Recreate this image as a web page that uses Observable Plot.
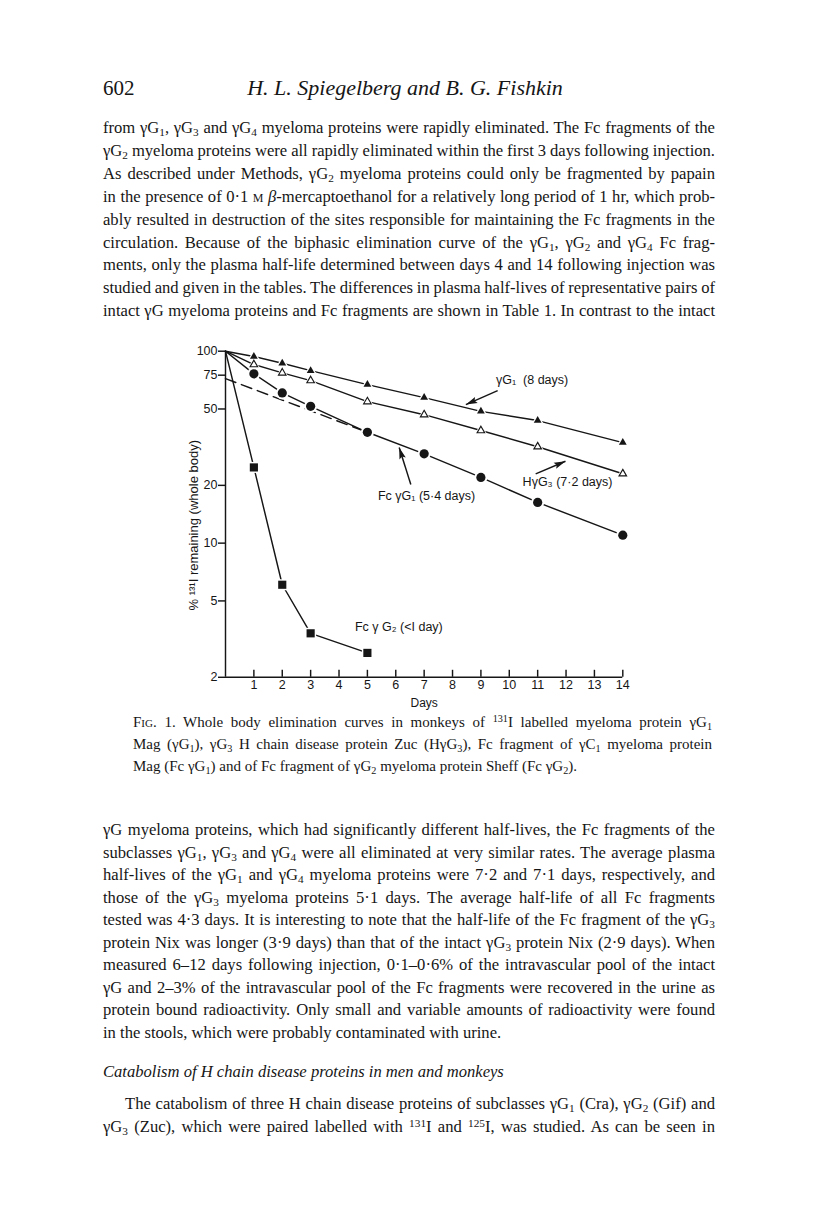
<!DOCTYPE html>
<html><head><meta charset="utf-8">
<script src="https://cdn.jsdelivr.net/npm/d3@7"></script>
<script src="https://cdn.jsdelivr.net/npm/@observablehq/plot@0.6"></script>
<style>
html,body{margin:0;padding:0;background:#fff;}
body{width:816px;height:1212px;position:relative;overflow:hidden;font-family:"Liberation Serif","Times New Roman",serif;color:#161616;}
.ln{position:absolute;white-space:nowrap;line-height:20px;height:20px;}
.ln span.t{display:inline-block;white-space:nowrap;}
.body{font-size:16.6px;}
.cap{font-size:15px;}
sub{font-size:0.68em;vertical-align:-0.28em;line-height:0;}
sup{font-size:0.68em;vertical-align:0.45em;line-height:0;}
.sc{font-variant:small-caps;}
#chart{position:absolute;left:100px;top:330px;}
</style>
</head><body>
<div id="page"></div>
<div id="chart"></div>
<script>
// ---------------- chart data ----------------
const days = [0, 1, 2, 3, 5, 7, 9, 11, 14];
const gG1 = [100, 93.8, 86.5, 79.2, 67.0, 57.3, 48.6, 43.5, 33.4];     // γG1 Mag (filled triangles)
const HgG3 = [100, 85.2, 77.1, 70.3, 54.6, 46.7, 38.6, 31.8, 23.0];    // HγG3 Zuc (open triangles)
const FcgG1 = [100, 76.2, 60.6, 51.6, 37.8, 29.2, 22.0, 16.3, 11.0];   // Fc γG1 (filled circles)
const daysG2 = [0, 1, 2, 3, 5];
const FcgG2 = [100, 24.8, 6.07, 3.39, 2.68];                           // Fc γG2 (filled squares)
const extrapDays = [0, 5];
const extrapFcgG1 = [72, 37.8];                                        // dashed back-extrapolation
const yTicks = [2, 5, 10, 20, 50, 75, 100];
const xTicks = [1, 2, 3, 4, 5, 6, 7, 8, 9, 10, 11, 12, 13, 14];
const yLabel = "% \u00B9\u00B3\u00B9I remaining (whole body)";
const xLabel = "Days";
const labelText = ["\u03B3G\u2081  (8 days)", "H\u03B3G\u2083 (7\u00B72 days)", "Fc \u03B3G\u2081 (5\u00B74 days)", "Fc \u03B3 G\u2082 (<I day)"];
const labelDay = [9.53, 10.47, 5.37, 4.56];
const labelPct = [71.1, 20.7, 17.7, 3.65];
const arrowDay1 = [9.59, 10.93, 6.53];
const arrowPct1 = [62.3, 22.96, 20.2];
const arrowDay2 = [8.47, 11.98, 6.12];
const arrowPct2 = [52.7, 26.7, 31.5];

// ---------------- page text ----------------
const header = {num: "602", authors: "H. L. Spiegelberg and B. G. Fishkin"};
const topLines = [
 "from \u03B3G<sub>1</sub>, \u03B3G<sub>3</sub> and \u03B3G<sub>4</sub> myeloma proteins were rapidly eliminated. The Fc fragments of the",
 "\u03B3G<sub>2</sub> myeloma proteins were all rapidly eliminated within the first 3 days following injection.",
 "As described under Methods, \u03B3G<sub>2</sub> myeloma proteins could only be fragmented by papain",
 "in the presence of 0\u00B71 <span class='sc'>m</span> <i>\u03B2</i>-mercaptoethanol for a relatively long period of 1 hr, which prob-",
 "ably resulted in destruction of the sites responsible for maintaining the Fc fragments in the",
 "circulation. Because of the biphasic elimination curve of the \u03B3G<sub>1</sub>, \u03B3G<sub>2</sub> and \u03B3G<sub>4</sub> Fc frag-",
 "ments, only the plasma half-life determined between days 4 and 14 following injection was",
 "studied and given in the tables. The differences in plasma half-lives of representative pairs of",
 "intact \u03B3G myeloma proteins and Fc fragments are shown in Table 1. In contrast to the intact"
];
const captionLines = [
 "F<span class='sc'>ig</span>. 1. Whole body elimination curves in monkeys of <sup>131</sup>I labelled myeloma protein \u03B3G<sub>1</sub>",
 "Mag (\u03B3G<sub>1</sub>), \u03B3G<sub>3</sub> H chain disease protein Zuc (H\u03B3G<sub>3</sub>), Fc fragment of \u03B3C<sub>1</sub> myeloma protein",
 "Mag (Fc \u03B3G<sub>1</sub>) and of Fc fragment of \u03B3G<sub>2</sub> myeloma protein Sheff (Fc \u03B3G<sub>2</sub>)."
];
const lowerLines = [
 "\u03B3G myeloma proteins, which had significantly different half-lives, the Fc fragments of the",
 "subclasses \u03B3G<sub>1</sub>, \u03B3G<sub>3</sub> and \u03B3G<sub>4</sub> were all eliminated at very similar rates. The average plasma",
 "half-lives of the \u03B3G<sub>1</sub> and \u03B3G<sub>4</sub> myeloma proteins were 7\u00B72 and 7\u00B71 days, respectively, and",
 "those of the \u03B3G<sub>3</sub> myeloma proteins 5\u00B71 days. The average half-life of all Fc fragments",
 "tested was 4\u00B73 days. It is interesting to note that the half-life of the Fc fragment of the \u03B3G<sub>3</sub>",
 "protein Nix was longer (3\u00B79 days) than that of the intact \u03B3G<sub>3</sub> protein Nix (2\u00B79 days). When",
 "measured 6\u201312 days following injection, 0\u00B71\u20130\u00B76% of the intravascular pool of the intact",
 "\u03B3G and 2\u20133% of the intravascular pool of the Fc fragments were recovered in the urine as",
 "protein bound radioactivity. Only small and variable amounts of radioactivity were found",
 "in the stools, which were probably contaminated with urine."
];
const heading = "Catabolism of H chain disease proteins in men and monkeys";
const lastLines = [
 "The catabolism of three H chain disease proteins of subclasses \u03B3G<sub>1</sub> (Cra), \u03B3G<sub>2</sub> (Gif) and",
 "\u03B3G<sub>3</sub> (Zuc), which were paired labelled with <sup>131</sup>I and <sup>125</sup>I, was studied. As can be seen in"
];

const page = document.getElementById("page");
function addLine(html, cls, left, cy, width, justify, extraStyle) {
  const d = document.createElement("div");
  d.className = "ln " + cls;
  d.style.left = left + "px";
  d.style.top = (cy - 10) + "px";
  if (extraStyle) d.style.cssText += extraStyle;
  const s = document.createElement("span");
  s.className = "t";
  s.innerHTML = html;
  d.appendChild(s);
  page.appendChild(d);
  if (justify) {
    const w = s.getBoundingClientRect().width;
    const n = (s.textContent.match(/ /g) || []).length;
    if (n) s.style.wordSpacing = ((width - w) / n) + "px";
  }
  return d;
}
// header
addLine(header.num, "body", 103, 88, 0, false, "font-size:21px;");
const h = addLine("<i>" + header.authors + "</i>", "body", 0, 88, 0, false, "font-size:22px;");
h.style.left = (405 - h.firstChild.getBoundingClientRect().width / 2) + "px";

topLines.forEach((t, i) => addLine(t, "body", 103, 128 + 22.9 * i, 612, true));
captionLines.forEach((t, i) => addLine(t, "cap", 133, 722 + 21.8 * i, 579, i < 2));
lowerLines.forEach((t, i) => addLine(t, "body", 103, 830 + 22.5 * i, 612, i < lowerLines.length - 1));
addLine("<i>" + heading + "</i>", "body", 103, 1072, 0, false);
lastLines.forEach((t, i) => addLine(t, "body", i === 0 ? 125 : 103, 1104 + 22.5 * i, i === 0 ? 590 : 612, true));

// ---------------- chart ----------------
function rows(xs, ys) { return xs.map((d, i) => ({day: d, pct: ys[i]})); }
const dG1 = rows(days, gG1), dG3 = rows(days, HgG3), dFc1 = rows(days, FcgG1), dFc2 = rows(daysG2, FcgG2);
const dExt = rows(extrapDays, extrapFcgG1);
const pts = a => a.filter(d => d.day > 0);
const labels = labelText.map((t, i) => ({text: t, day: labelDay[i], pct: labelPct[i]}));

const ink = "#161616";
const lw = 1.45;
const frame = {
  width: 560, height: 390,
  marginLeft: 125, marginRight: 37.7, marginTop: 20.7, marginBottom: 43.2,
  x: {domain: [0, 14]},
  y: {type: "log", domain: [2, 100]}
};
// scales (to orient the filled arrowheads)
const probe = Plot.plot({...frame, marks: [Plot.ruleX([0])]});
const sx = probe.scale("x"), sy = probe.scale("y");
const arrows = arrowDay1.map((d, i) => {
  const dx = sx.apply(arrowDay2[i]) - sx.apply(d);
  const dy = sy.apply(arrowPct2[i]) - sy.apply(arrowPct1[i]);
  return {x1: d, y1: arrowPct1[i], x2: arrowDay2[i], y2: arrowPct2[i], angle: Math.atan2(dx, -dy) * 180 / Math.PI};
});
const arrowHead = {draw(ctx) { ctx.moveTo(0, 0); ctx.lineTo(-3.3, 11.5); ctx.lineTo(0, 9.5); ctx.lineTo(3.3, 11.5); ctx.closePath(); }};

const chart = Plot.plot({
  ...frame,
  style: {fontFamily: "'Liberation Sans', 'DejaVu Sans', sans-serif", fontSize: "12.5px", color: ink, background: "transparent"},
  marks: [
    Plot.ruleX([0], {stroke: ink, strokeWidth: lw}),
    Plot.ruleY([2], {stroke: ink, strokeWidth: lw}),
    Plot.axisY({ticks: yTicks, tickSize: 7, tickFormat: () => "", label: null, stroke: ink, strokeWidth: lw}),
    Plot.text(yTicks, {y: d => d, frameAnchor: "left", dx: -8, textAnchor: "end", text: d => String(d), fontSize: 12.5, fill: ink}),
    Plot.axisX({ticks: xTicks, tickSize: 0, tickPadding: 3, tickFormat: d => String(d), label: null}),
    Plot.axisX({ticks: xTicks, tickSize: -7, tickFormat: () => "", label: null, stroke: ink, strokeWidth: lw}),
    Plot.text([yLabel], {frameAnchor: "left", textAnchor: "middle", rotate: -90, dx: -32, dy: 11, fontSize: 13}),
    Plot.text([xLabel], {frameAnchor: "bottom", dy: 30, fontSize: 12}),
    Plot.line(dExt, {x: "day", y: "pct", stroke: ink, strokeWidth: lw, strokeDasharray: "11,6"}),
    Plot.line(dG1, {x: "day", y: "pct", stroke: ink, strokeWidth: lw}),
    Plot.line(dG3, {x: "day", y: "pct", stroke: ink, strokeWidth: lw}),
    Plot.line(dFc1, {x: "day", y: "pct", stroke: ink, strokeWidth: lw}),
    Plot.line(dFc2, {x: "day", y: "pct", stroke: ink, strokeWidth: lw}),
    // white halos around markers (gaps in lines)
    Plot.dot(pts(dG1), {x: "day", y: "pct", symbol: "triangle", r: 4.5, fill: "white"}),
    Plot.dot(pts(dG3), {x: "day", y: "pct", symbol: "triangle", r: 4.5, fill: "white"}),
    Plot.dot(pts(dFc1), {x: "day", y: "pct", symbol: "circle", r: 6.5, fill: "white"}),
    Plot.dot(pts(dFc2), {x: "day", y: "pct", symbol: "square", r: 6.2, fill: "white"}),
    // markers
    Plot.dot(pts(dG1), {x: "day", y: "pct", symbol: "triangle", r: 2.9, fill: ink}),
    Plot.dot(pts(dG3), {x: "day", y: "pct", symbol: "triangle", r: 2.8, fill: "white", stroke: ink, strokeWidth: 1.15}),
    Plot.dot(pts(dFc1), {x: "day", y: "pct", symbol: "circle", r: 4.6, fill: ink}),
    Plot.dot(pts(dFc2), {x: "day", y: "pct", symbol: "square", r: 4.6, fill: ink}),
    // annotations: arrow shafts + filled heads
    Plot.link(arrows, {x1: "x1", y1: "y1", x2: "x2", y2: "y2", stroke: ink, strokeWidth: lw}),
    Plot.dot(arrows, {x: "x2", y: "y2", symbol: arrowHead, rotate: "angle", fill: ink, stroke: "none"}),
    Plot.text(labels, {x: "day", y: "pct", text: "text", textAnchor: "start", fontSize: 12.5, fill: ink})
  ]
});
document.getElementById("chart").appendChild(chart);
</script>
</body></html>
